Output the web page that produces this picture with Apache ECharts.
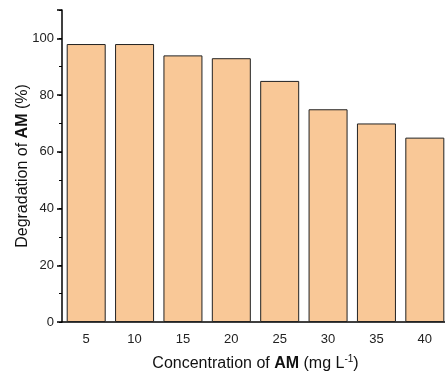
<!DOCTYPE html>
<html>
<head>
<meta charset="utf-8">
<script src="https://cdn.jsdelivr.net/npm/echarts@6/dist/echarts.min.js"></script>
<style>
  html, body { margin: 0; padding: 0; background: #fff; }
  #main { width: 445px; height: 374px; }
</style>
</head>
<body>
<div id="main"></div>
<script>
// concentration of AM (mg/L) and degradation (%)
const categories = ['5', '10', '15', '20', '25', '30', '35', '40'];
const degradation = [98, 98, 94, 93, 85, 75, 70, 65];

const font = 'Liberation Sans, Arial, sans-serif';
const chart = echarts.init(document.getElementById('main'), null, { renderer: 'canvas' });

chart.setOption({
  animation: false,
  grid: { left: 62, right: -4, top: 10, bottom: 52, containLabel: false, outerBoundsMode: 'none' },
  xAxis: [
    {
      type: 'category',
      data: categories,
      name: '{n|Concentration of }{b|AM}{n| (mg L}{s|-1}{n|)}',
      nameLocation: 'middle',
      nameGap: 32,
      nameTextStyle: {
        rich: {
          n: { fontSize: 16, fontFamily: font, color: '#111' },
          b: { fontSize: 16, fontFamily: font, color: '#111', fontWeight: 'bold' },
          s: { fontSize: 10, fontFamily: font, color: '#111', verticalAlign: 'bottom', padding: [0, 0, 9, 0] }
        }
      },
      axisLine: { lineStyle: { color: '#000', width: 1.5 } },
      axisTick: { alignWithLabel: true, length: 5, lineStyle: { color: '#000', width: 1.5 } },
      axisLabel: { fontSize: 13, fontFamily: font, color: '#222', margin: 11 },
      splitLine: { show: false }
    },
    {
      // short ticks at the category boundaries
      type: 'category',
      data: categories,
      position: 'bottom',
      axisLine: { show: false },
      axisTick: { length: 2, lineStyle: { color: '#000', width: 1 } },
      axisLabel: { show: false }
    }
  ],
  yAxis: [
    {
      type: 'value',
      min: 0,
      max: 110,
      interval: 20,
      name: '{n|Degradation of }{b|AM}{n| (%)}',
      nameLocation: 'middle',
      nameGap: 31,
      nameMoveOverlap: false,
      nameTextStyle: {
        rich: {
          n: { fontSize: 16, fontFamily: font, color: '#111' },
          b: { fontSize: 16, fontFamily: font, color: '#111', fontWeight: 'bold' }
        }
      },
      axisLine: { show: true, lineStyle: { color: '#000', width: 1.5 } },
      axisTick: { show: true, length: 5, lineStyle: { color: '#000', width: 1.5 } },
      axisLabel: {
        fontSize: 13, fontFamily: font, color: '#222', margin: 8,
        formatter: v => (v % 20 === 0 && v <= 100 ? v : '')
      },
      splitLine: { show: false }
    },
    {
      // minor ticks every 10
      type: 'value',
      min: 0,
      max: 110,
      interval: 10,
      position: 'left',
      axisLine: { show: false },
      axisTick: { show: true, length: 3, lineStyle: { color: '#000', width: 1 } },
      axisLabel: { show: false },
      splitLine: { show: false }
    }
  ],
  series: [
    {
      type: 'bar',
      data: degradation,
      barWidth: 39,
      itemStyle: { color: '#F9C897', borderColor: '#222', borderWidth: 1 }
    }
  ]
});
</script>
</body>
</html>
